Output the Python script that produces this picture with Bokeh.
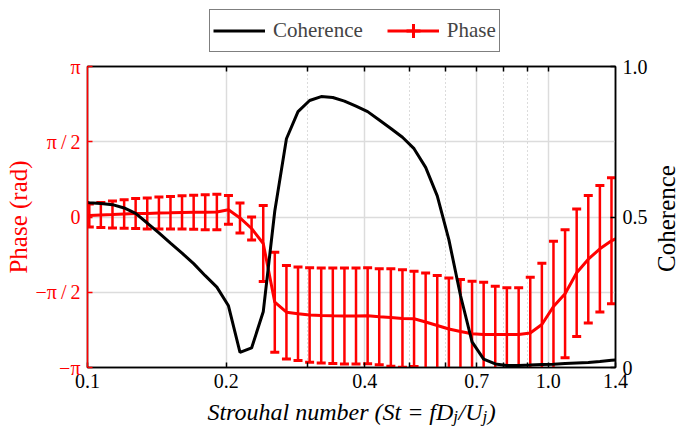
import math
from bokeh.plotting import figure
from bokeh.layouts import column, row
from bokeh.models import (Range1d, LinearAxis, LogAxis, FixedTicker, Grid,
                          Legend, LegendItem, Label)
from bokeh.embed import file_html
from bokeh.resources import INLINE

# ---------------- data ----------------
st = [0.1009, 0.1069, 0.1133, 0.1201, 0.1272, 0.1348, 0.1429, 0.1514, 0.1604, 0.1700,
      0.1801, 0.1909, 0.2023, 0.2143, 0.2271, 0.2407, 0.2550, 0.2703, 0.2864, 0.3035,
      0.3216, 0.3408, 0.3612, 0.3827, 0.4056, 0.4298, 0.4555, 0.4827, 0.5115, 0.5420,
      0.5744, 0.6087, 0.6450, 0.6835, 0.7243, 0.7676, 0.8134, 0.8628, 0.9143, 0.9689,
      1.0268, 1.0881, 1.1531, 1.2219, 1.2949, 1.3722]
coherence = [0.547, 0.545, 0.541, 0.530, 0.512, 0.480, 0.447, 0.413, 0.380, 0.345,
             0.305, 0.267, 0.205, 0.050, 0.065, 0.185, 0.520, 0.760, 0.850, 0.887,
             0.900, 0.897, 0.885, 0.868, 0.850, 0.822, 0.794, 0.765, 0.727, 0.665,
             0.570, 0.425, 0.240, 0.085, 0.028, 0.012, 0.007, 0.007, 0.008, 0.010,
             0.011, 0.013, 0.015, 0.017, 0.020, 0.024]
phase = [0.031, 0.042, 0.052, 0.063, 0.073, 0.073, 0.083, 0.088, 0.094, 0.098,
         0.100, 0.104, 0.150, -0.020, -0.240, -0.553, -1.778, -1.987, -2.021, -2.046,
         -2.056, -2.062, -2.067, -2.067, -2.062, -2.083, -2.098, -2.119, -2.125, -2.192,
         -2.265, -2.338, -2.390, -2.438, -2.453, -2.453, -2.453, -2.453, -2.421, -2.244,
         -1.868, -1.603, -1.163, -0.881, -0.664, -0.497]
phase_err = [0.240, 0.261, 0.282, 0.298, 0.313, 0.324, 0.334, 0.340, 0.347, 0.355,
             0.365, 0.372, 0.300, 0.313, 0.240, 0.793, 1.044, 0.975, 0.975, 0.985,
             0.992, 0.996, 1.002, 1.002, 1.002, 1.002, 1.017, 1.017, 0.994, 1.023,
             1.044, 1.065, 1.085, 1.098, 1.092, 1.008, 0.975, 0.975, 1.165, 1.280,
             1.363, 1.336, 1.332, 1.330, 1.321, 1.315]
# line end points at the axis limits
st_ends = [0.1, 1.4]
coherence_ends = [0.548, 0.025]
phase_ends = [0.030, -0.455]

x_ticks = [0.1, 0.2, 0.3, 0.4, 0.5, 0.6, 0.7, 0.8, 0.9, 1.0, 1.4]
x_tick_labels = ["0.1", "0.2", "", "0.4", "", "", "0.7", "", "", "1.0", "1.4"]
x_grid_solid = [0.2, 0.4, 0.7, 1.0]
x_grid_dotted = [0.3, 0.5, 0.6, 0.8, 0.9]
phase_ticks = [-math.pi, -math.pi / 2, 0.0, math.pi / 2, math.pi]
phase_tick_labels = ["\u2212\u03c0", "\u2212\u03c0\u2009/\u20092", "0",
                     "\u03c0\u2009/\u20092", "\u03c0"]
coh_ticks = [0.0, 0.5, 1.0]
coh_tick_labels = ["0", "0.5", "1.0"]

# ---------------- layout / styling ----------------
RED = "#ff0000"
FONT = "Liberation Serif"
GRID = "#dcdcdc"
W_MAIN, W_RIGHT = 650, 30           # main column, right strip ("Coherence")
H0, H1, H2 = 54, 342, 40            # legend strip, main plot, x-label strip
BL, BR, BT, BB = 87, 33, 12, 29     # main plot borders -> frame 87..617 x 66..367
FX0, FX1 = BL, W_MAIN - BR          # frame left/right in page pixels


def strip(width, height, x_range, y_range, bl=0, br=0):
    f = figure(width=width, height=height, x_range=x_range, y_range=y_range,
               output_backend="svg", toolbar_location=None,
               x_axis_location=None, y_axis_location=None,
               min_border_left=bl, min_border_right=br,
               min_border_top=0, min_border_bottom=0)
    f.outline_line_color = None
    f.xgrid.visible = False
    f.ygrid.visible = False
    f.background_fill_color = "white"
    f.border_fill_color = "white"
    return f


p = figure(width=W_MAIN, height=H1, x_axis_type="log",
           x_range=Range1d(0.1, 1.4), y_range=Range1d(-math.pi, math.pi),
           output_backend="svg", toolbar_location=None,
           min_border_left=BL, min_border_right=BR,
           min_border_top=BT, min_border_bottom=BB)
p.extra_y_ranges = {"coh": Range1d(0, 1)}
p.outline_line_color = "black"
p.outline_line_width = 1.5
p.background_fill_color = "white"
p.border_fill_color = "white"

# grids
p.xgrid.visible = False
p.ygrid.ticker = FixedTicker(ticks=phase_ticks[1:-1], minor_ticks=[])
p.ygrid.grid_line_color = GRID
p.ygrid.grid_line_width = 1.5
p.add_layout(Grid(dimension=0, ticker=FixedTicker(ticks=x_grid_solid, minor_ticks=[]),
                  grid_line_color=GRID, grid_line_width=1.5))
p.add_layout(Grid(dimension=0, ticker=FixedTicker(ticks=x_grid_dotted, minor_ticks=[]),
                  grid_line_color="#b8b8b8", grid_line_width=1, grid_line_dash="1 3"))


def style_axis(ax, color):
    ax.axis_line_color = color
    ax.axis_line_width = 1.5
    ax.major_tick_line_color = color
    ax.major_tick_line_width = 1.5
    ax.major_tick_in = 5
    ax.major_tick_out = 0
    ax.minor_tick_in = 0
    ax.minor_tick_out = 0
    ax.major_label_text_font = FONT
    ax.major_label_text_font_size = "20px"
    ax.major_label_text_color = color


# bottom axis
xa = p.xaxis[0]
xa.ticker = FixedTicker(ticks=x_ticks, minor_ticks=[])
xa.major_label_overrides = dict(zip(x_ticks, x_tick_labels))
style_axis(xa, "black")
xa.major_label_standoff = 6

# top axis (ticks only)
ta = LogAxis(ticker=FixedTicker(ticks=sorted(x_grid_solid + x_grid_dotted), minor_ticks=[]))
style_axis(ta, "black")
ta.major_label_overrides = {t: "" for t in x_grid_solid + x_grid_dotted}
ta.major_label_text_font_size = "1px"
ta.major_label_standoff = 0
p.add_layout(ta, "above")

# left axis (phase)
ya = p.yaxis[0]
ya.ticker = FixedTicker(ticks=phase_ticks, minor_ticks=[])
ya.major_label_overrides = dict(zip(phase_ticks, phase_tick_labels))
style_axis(ya, RED)
ya.major_label_standoff = 7
ya.axis_label = "Phase (rad)"
ya.axis_label_text_font = FONT
ya.axis_label_text_font_size = "25px"
ya.axis_label_text_font_style = "normal"
ya.axis_label_text_color = RED
ya.axis_label_standoff = 1

# right axis (coherence)
ra = LinearAxis(y_range_name="coh", ticker=FixedTicker(ticks=coh_ticks, minor_ticks=[]))
ra.major_label_overrides = dict(zip(coh_ticks, coh_tick_labels))
style_axis(ra, "black")
ra.major_label_standoff = 7
p.add_layout(ra, "right")

# ---------------- data glyphs ----------------
lo = [c - e for c, e in zip(phase, phase_err)]
hi = [c + e for c, e in zip(phase, phase_err)]
p.segment(x0=st, y0=lo, x1=st, y1=hi, line_color=RED, line_width=2.5)
p.scatter(x=st, y=hi, marker="dash", size=9, line_color=RED, line_width=3)
p.scatter(x=st, y=lo, marker="dash", size=9, line_color=RED, line_width=3)

x_line = [st_ends[0]] + st + [st_ends[1]]
p.line(x_line, [phase_ends[0]] + phase + [phase_ends[1]], line_color=RED, line_width=3)
p.line(x_line, [coherence_ends[0]] + coherence + [coherence_ends[1]],
       y_range_name="coh", line_color="black", line_width=3)

# ---------------- legend strip (above) ----------------
t = strip(W_MAIN, H0, Range1d(FX0, FX1), Range1d(0, H0), BL, BR)
nan = float("nan")
k_coh = t.line([FX0, FX1], [nan, nan], line_color="black", line_width=3)
k_ph = t.line([FX0, FX1], [nan, nan], line_color=RED, line_width=3)
k_bar = t.scatter([FX0], [nan], marker="cross", size=14, line_color=RED, line_width=3)
legend = Legend(items=[LegendItem(label="Coherence", renderers=[k_coh]),
                       LegendItem(label="Phase", renderers=[k_ph, k_bar])],
                orientation="horizontal", location=(209 - FX0, 2),
                label_text_font=FONT, label_text_font_size="21px",
                border_line_color="black", border_line_width=1,
                background_fill_color="white", background_fill_alpha=1,
                padding=3, spacing=24, glyph_width=52, glyph_height=35,
                label_standoff=8, margin=0)
t.add_layout(legend)

# ---------------- x-axis label strip (pieces for the subscripts) ----------------
q = strip(W_MAIN, H2, Range1d(FX0, FX1), Range1d(0, H2), BL, BR)
XL_SIZE, SUB_SIZE = 24, 17
pieces = [("Strouhal number (St = fD", XL_SIZE, 10.286 * XL_SIZE, 0),
          ("j", SUB_SIZE, 0.278 * SUB_SIZE + 0.5, -5),
          ("/U", XL_SIZE, 1.0 * XL_SIZE, 0),
          ("j", SUB_SIZE, 0.278 * SUB_SIZE + 0.5, -5),
          (")", XL_SIZE, 0.333 * XL_SIZE, 0)]
total = sum(w for _, _, w, _ in pieces)
x0 = (FX0 + FX1) / 2 - total / 2
base = 25
for txt, size, w, dy in pieces:
    q.add_layout(Label(x=x0, y=base + dy, text=txt, text_font=FONT,
                       text_font_style="italic", text_font_size=f"{size}px",
                       text_align="left", text_baseline="alphabetic",
                       text_color="black"))
    x0 += w

# ---------------- right strip: "Coherence" axis title ----------------
r = strip(W_RIGHT, H0 + H1 + H2, Range1d(0, W_RIGHT), Range1d(-math.pi, math.pi))
r.add_layout(Label(x=16, y=0.0, text="Coherence", angle=math.pi / 2,
                   text_align="center", text_baseline="middle",
                   text_font=FONT, text_font_size="25px", text_color="black"))

layout = row(column(t, p, q, spacing=0), r, spacing=0)
open("out.html", "w").write(file_html(layout, INLINE))
